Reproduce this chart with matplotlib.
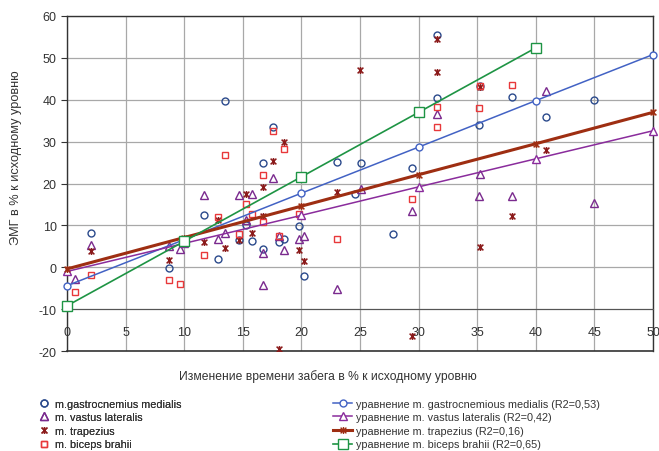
import matplotlib.pyplot as plt
import numpy as np
from matplotlib.path import Path
from matplotlib.lines import Line2D

plt.rcParams['font.family'] = ['Liberation Sans', 'DejaVu Sans']
plt.rcParams['axes.unicode_minus'] = False

# scatter data (x = изменение времени забега, y = ЭМГ)
gastro_x = [2.08, 8.7, 11.7, 12.87, 13.44, 14.7, 15.26, 15.8, 16.7, 16.7, 17.6, 18.1, 18.5,
            19.75, 20.2, 23.07, 24.6, 25.1, 27.8, 29.4, 31.55, 31.6, 35.2, 35.15, 38.0, 40.9, 45.0]
gastro_y = [8.2, -0.2, 12.4, 2.0, 39.8, 6.6, 10.2, 6.2, 25.0, 4.4, 33.6, 6.0, 6.8,
            9.8, -2.2, 25.2, 17.4, 25.0, 7.9, 23.6, 55.5, 40.4, 43.4, 34.0, 40.6, 35.9, 40.0]

vastus_x = [0.7, 2.08, 8.7, 9.65, 11.7, 12.87, 13.5, 14.7, 15.26, 15.8, 16.7, 16.7, 17.6,
            18.1, 18.5, 19.75, 20.2, 23.07, 25.1, 29.43, 31.55, 35.2, 35.15, 38.0, 40.9, 45.0]
vastus_y = [-2.8, 5.2, 5.0, 4.3, 17.2, 6.8, 8.2, 17.2, 11.4, 17.6, 3.4, -4.2, 21.2,
            7.4, 4.2, 6.8, 7.4, -5.2, 18.8, 13.4, 36.7, 22.2, 17.0, 17.0, 42.0, 15.4]

trap_x = [2.08, 8.7, 11.7, 12.87, 13.5, 14.7, 15.26, 15.8, 16.7, 16.7, 17.6, 18.1, 18.5,
          19.75, 20.2, 23.07, 25.0, 29.43, 31.55, 31.6, 35.2, 35.2, 38.0, 40.9]
trap_y = [4.0, 1.8, 6.0, 11.2, 4.6, 6.4, 17.4, 8.2, 19.2, 12.2, 25.4, -19.6, 29.8,
          4.2, 1.4, 18.0, 47.1, -16.4, 54.4, 46.6, 43.0, 4.8, 12.2, 27.9]

biceps_x = [0.7, 2.08, 8.7, 9.65, 11.7, 12.87, 13.44, 14.7, 15.3, 15.8, 16.7, 16.7, 17.6,
            18.1, 18.5, 19.75, 23.07, 29.43, 31.55, 31.55, 35.2, 35.15, 38.0]
biceps_y = [-5.8, -1.8, -3.0, -4.0, 3.0, 11.9, 26.8, 8.0, 15.1, 12.7, 22.0, 10.8, 32.6,
            7.4, 28.2, 12.6, 6.8, 16.2, 38.2, 33.5, 43.2, 38.0, 43.6]

# trend lines
fit_x = [0, 10, 20, 30, 40, 50]
fit_gastro = [-4.4, 6.6, 17.7, 28.7, 39.8, 50.8]
fit_vastus = [-1.0, 5.7, 12.4, 19.2, 25.9, 32.6]
fit_trap = [-0.4, 7.1, 14.6, 22.1, 29.5, 37.0]
fit_biceps_x = [0, 10, 20, 30, 40]
fit_biceps = [-9.2, 6.2, 21.6, 37.0, 52.4]

labels_pts = ['m.gastrocnemius medialis', 'm. vastus lateralis', 'm. trapezius', 'm. biceps brahii']
labels_fit = ['уравнение m. gastrocnemious medialis (R2=0,53)',
              'уравнение m. vastus lateralis (R2=0,42)',
              'уравнение m. trapezius (R2=0,16)',
              'уравнение m. biceps brahii (R2=0,65)']

# excel-like star: X with a vertical bar
star = Path([(-1, -1), (1, 1), (-1, 1), (1, -1), (0, -1.2), (0, 1.2)],
            [Path.MOVETO, Path.LINETO, Path.MOVETO, Path.LINETO, Path.MOVETO, Path.LINETO])

c_gas, c_vas, c_trap, c_bic = '#2b4a8c', '#7a2a8e', '#8b1a1a', '#e8383a'
l_gas, l_vas, l_trap, l_bic = '#4262c4', '#8a2c9c', '#9e2e12', '#1e9444'

fig = plt.figure(figsize=(6.59, 4.52), dpi=100)
ax = fig.add_axes([0.1017, 0.2212, 0.8893, 0.7412])

ax.set_xlim(0, 50)
ax.set_ylim(-20, 60)
ax.set_xticks(np.arange(0, 51, 5))
ax.set_yticks(np.arange(-20, 61, 10))
ax.grid(True, color='#a8a8a8', lw=0.9)
ax.set_axisbelow(True)

for s in ['left', 'top', 'right']:
    ax.spines[s].set_color('#333333')
    ax.spines[s].set_linewidth(1.0)
ax.spines['bottom'].set_position(('data', -10))
ax.spines['bottom'].set_color('#555555')
ax.axhline(-20, color='#333333', lw=1.2, clip_on=False)

ax.tick_params(axis='x', length=0, pad=12, labelsize=9, labelcolor='#333333')
ax.tick_params(axis='y', length=4, direction='out', labelsize=9, labelcolor='#333333', color='#333333')

ms = 5
ax.plot(gastro_x, gastro_y, 'o', ls='none', mfc='none', mec=c_gas, ms=ms, mew=1.0)
ax.plot(vastus_x, vastus_y, '^', ls='none', mfc='none', mec=c_vas, ms=ms + 0.5, mew=1.0)
ax.plot(trap_x, trap_y, marker=star, ls='none', color=c_trap, ms=ms, mew=1.1)
ax.plot(biceps_x, biceps_y, 's', ls='none', mfc='none', mec=c_bic, ms=ms - 0.3, mew=1.0)

ax.plot(fit_x, fit_gastro, '-o', color=l_gas, lw=1.1, mfc='white', mec=l_gas, ms=5, clip_on=False, zorder=4)
ax.plot(fit_x, fit_vastus, '-^', color=l_vas, lw=1.1, mfc='white', mec=l_vas, ms=5.5, clip_on=False, zorder=4)
ax.plot(fit_x, fit_trap, '-', marker=star, color=l_trap, lw=2.2, ms=5, mew=1.1, clip_on=False, zorder=4)
ax.plot(fit_biceps_x, fit_biceps, '-s', color=l_bic, lw=1.2, mfc='white', mec=l_bic, ms=6.5, clip_on=False, zorder=5)

ax.set_xlabel('Изменение времени забега в % к исходному уровню', fontsize=8.7, color='#333333')
ax.xaxis.set_label_coords(0.445, -0.055)
ax.set_ylabel('ЭМГ в % к исходному уровню', fontsize=9.2, color='#333333')
ax.yaxis.set_label_coords(-0.077, 0.58)

h_pts = [Line2D([], [], marker='o', ls='none', mfc='none', mec=c_gas, ms=ms),
         Line2D([], [], marker='^', ls='none', mfc='none', mec=c_vas, ms=ms + 0.5),
         Line2D([], [], marker=star, ls='none', color=c_trap, ms=ms),
         Line2D([], [], marker='s', ls='none', mfc='none', mec=c_bic, ms=ms - 0.3)]
h_fit = [Line2D([], [], marker='o', color=l_gas, lw=1.1, mfc='white', mec=l_gas, ms=5),
         Line2D([], [], marker='^', color=l_vas, lw=1.1, mfc='white', mec=l_vas, ms=5.5),
         Line2D([], [], marker=star, color=l_trap, lw=2.2, ms=5),
         Line2D([], [], marker='s', color=l_bic, lw=1.2, mfc='white', mec=l_bic, ms=6.5)]

leg1 = fig.legend(h_pts, labels_pts, loc='upper left', bbox_to_anchor=(0.058, 0.116),
                  frameon=False, fontsize=7.8, handlelength=1.0, handletextpad=0.55,
                  labelspacing=0.33, borderpad=0, borderaxespad=0)
leg2 = fig.legend(h_fit, labels_fit, loc='upper left', bbox_to_anchor=(0.505, 0.116),
                  frameon=False, fontsize=7.8, handlelength=1.8, handletextpad=0.35,
                  labelspacing=0.33, borderpad=0, borderaxespad=0)
for leg in (leg1, leg2):
    for t in leg.get_texts():
        t.set_color('#333333')
fig.add_artist(leg1)

fig.savefig('out.png', dpi=100)
